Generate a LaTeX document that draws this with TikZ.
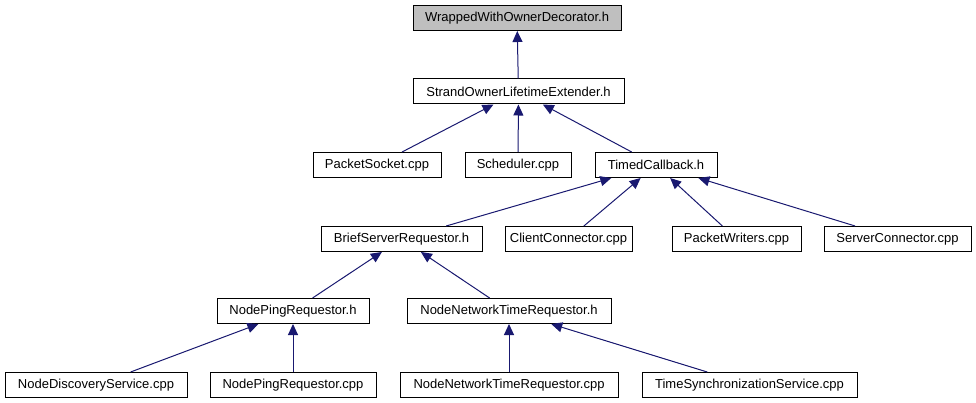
\documentclass[tikz,border=0pt]{standalone}
\usepackage{fontspec}
\setmainfont{Liberation Sans}
\usetikzlibrary{arrows.meta}

\definecolor{edgeblue}{HTML}{191970}
\definecolor{headgray}{HTML}{BFBFBF}

\tikzset{
	filebox/.style={draw=black, line width=1pt, fill=white, minimum height=25pt,
		inner sep=0pt, font=\fontsize{13}{15}\selectfont},
	incl/.style={edgeblue, line width=1pt, -{Triangle[length=11pt, width=10pt]}}
}

\begin{document}
\begin{tikzpicture}[x=1pt, y=-1pt]
			\useasboundingbox (0,0) rectangle (976,403);
			
			% Header at the top
			\node[filebox, fill=headgray, minimum width=208pt] (wwod) at (517,18) {WrappedWithOwnerDecorator.h};
			\node[filebox, minimum width=211pt] (sole) at (518.5,91.5) {StrandOwnerLifetimeExtender.h};
			
			% Files including the extender
			\node[filebox, minimum width=128pt] (psock) at (377,165) {PacketSocket.cpp};
			\node[filebox, minimum width=106pt] (sched) at (518,165) {Scheduler.cpp};
			\node[filebox, minimum width=122pt] (tcb) at (656,165) {TimedCallback.h};
			
			% Files including the timed callback
			\foreach \name/\xx/\ww/\txt in {
				bsr/401.5/161/BriefServerRequestor.h,
				cconn/568.5/127/ClientConnector.cpp,
				pwrt/736.5/129/PacketWriters.cpp,
				sconn/897.5/147/ServerConnector.cpp} {
				\node[filebox, minimum width=\ww pt] (\name) at (\xx,239) {\txt};
			}
			
			% Requestors
			\node[filebox, minimum width=152pt] (npingh) at (293,311) {NodePingRequestor.h};
			\node[filebox, minimum width=204pt] (nntrh) at (509,311) {NodeNetworkTimeRequestor.h};
			
			% Bottom row
			\foreach \name/\xx/\ww/\txt in {
				nds/96/182/NodeDiscoveryService.cpp,
				npingc/293/166/NodePingRequestor.cpp,
				nntrc/509/218/NodeNetworkTimeRequestor.cpp,
				tsync/749.5/215/TimeSynchronizationService.cpp} {
				\node[filebox, minimum width=\ww pt] (\name) at (\xx,385) {\txt};
			}
			
			% Include edges
			\draw[incl] (sole) -- (wwod);
			\foreach \src in {psock,sched,tcb} {
				\draw[incl] (\src) -- (sole);
			}
			\foreach \src in {bsr,cconn,pwrt,sconn} {
				\draw[incl] (\src) -- (tcb);
			}
			\draw[incl] (npingh) -- (bsr);
			\draw[incl] (nntrh) -- (bsr);
			\draw[incl] (nds) -- (npingh);
			\draw[incl] (npingc) -- (npingh);
			\draw[incl] (nntrc) -- (nntrh);
			\draw[incl] (tsync) -- (nntrh);
		\end{tikzpicture}
\end{document}
